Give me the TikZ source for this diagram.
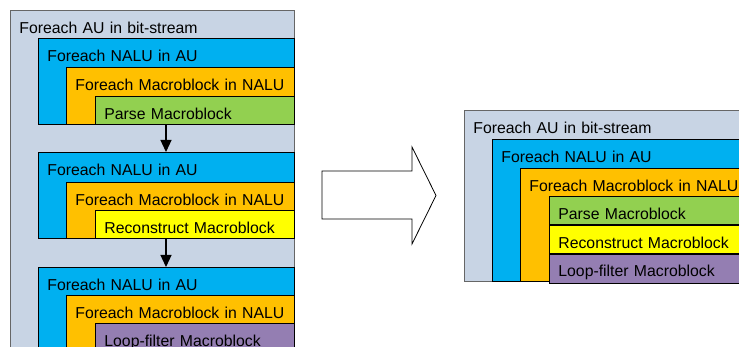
\documentclass[tikz,border=0pt]{standalone}
\usepackage{fontspec}
\setmainfont{Liberation Sans}
\usepackage{tikz}
\usetikzlibrary{arrows.meta, positioning}

\definecolor{aucol}{RGB}{200,212,228}
\definecolor{nalucol}{RGB}{0,176,240}
\definecolor{mbcol}{RGB}{255,192,0}
\definecolor{parsecol}{RGB}{146,208,80}
\definecolor{reconcol}{RGB}{255,255,0}
\definecolor{loopcol}{RGB}{148,126,178}

\begin{document}
\begin{tikzpicture}[
        x=1pt, y=-1pt,
        box/.style={rectangle, draw=black, line width=0.8pt, anchor=north west, inner xsep=9pt, inner ysep=0pt,
                    align=left, text height=23pt, font=\fontsize{15.8}{19}\selectfont},
        aubox/.style={box, draw=black!60, fill=aucol},
        nalubox/.style={box, fill=nalucol},
        mbbox/.style={box, fill=mbcol},
        arrow/.style={-{Triangle[length=12pt, width=11pt]}, line width=1.2pt}
    ]
    \useasboundingbox (0,0) rectangle (739,347);
    \clip (0,0) rectangle (739,347);

    % left: three separate passes
    \node[aubox, text width=266pt, text depth=327pt] (au1) at (10,10) {Foreach AU in bit-stream};

    \node[nalubox, text width=238pt, text depth=63pt] (nalu1) at (38,38) {Foreach NALU in AU};
    \node[mbbox, text width=210pt, text depth=34pt] (mb1) at (66,67) {\mbox{Foreach Macroblock in NALU}};
    \node[box, fill=parsecol, text width=181pt, text depth=5pt] (parse1) at (95,96) {Parse Macroblock};

    \node[nalubox, text width=238pt, text depth=63pt] (nalu2) at (38,152) {Foreach NALU in AU};
    \node[mbbox, text width=210pt, text depth=33pt] (mb2) at (66,182) {\mbox{Foreach Macroblock in NALU}};
    \node[box, fill=reconcol, text width=181pt, text depth=5pt] (recon1) at (95,210) {Reconstruct Macroblock};

    \node[nalubox, text width=238pt, text depth=70pt] (nalu3) at (38,267) {Foreach NALU in AU};
    \node[mbbox, text width=210pt, text depth=42pt] (mb3) at (66,295) {\mbox{Foreach Macroblock in NALU}};
    \node[box, fill=loopcol, text width=181pt, text depth=14pt] (loop1) at (95,323) {Loop-filter Macroblock};

    \draw[arrow] ([xshift=71pt]parse1.south west) -- ([xshift=128pt]nalu2.north west);
    \draw[arrow] ([xshift=71pt]recon1.south west) -- ([xshift=128pt]nalu3.north west);

    % hollow arrow
    \draw[line width=0.8pt, fill=white] (322,171) -- (412,171) -- (412,147) -- (436,195.5)
        -- (412,244) -- (412,219) -- (322,219) -- cycle;

    % right: one merged pass
    \node[aubox, text width=278pt, text depth=148pt] (au2) at (464,110) {Foreach AU in bit-stream};
    \node[nalubox, text width=250pt, text depth=119pt] (nalu4) at (492,139) {Foreach NALU in AU};
    \node[mbbox, text width=222pt, text depth=90pt] (mb4) at (520,168) {Foreach Macroblock in NALU};
    \node[box, fill=parsecol, text width=193pt, text depth=5pt] (parse2) at (549,196) {Parse Macroblock};
    \node[box, fill=reconcol, text width=193pt, text depth=5pt] (recon2) at (parse2.south west) {Reconstruct Macroblock};
    \node[box, fill=loopcol, text width=193pt, text depth=6pt] (loop2) at (recon2.south west) {Loop-filter Macroblock};
\end{tikzpicture}
\end{document}
